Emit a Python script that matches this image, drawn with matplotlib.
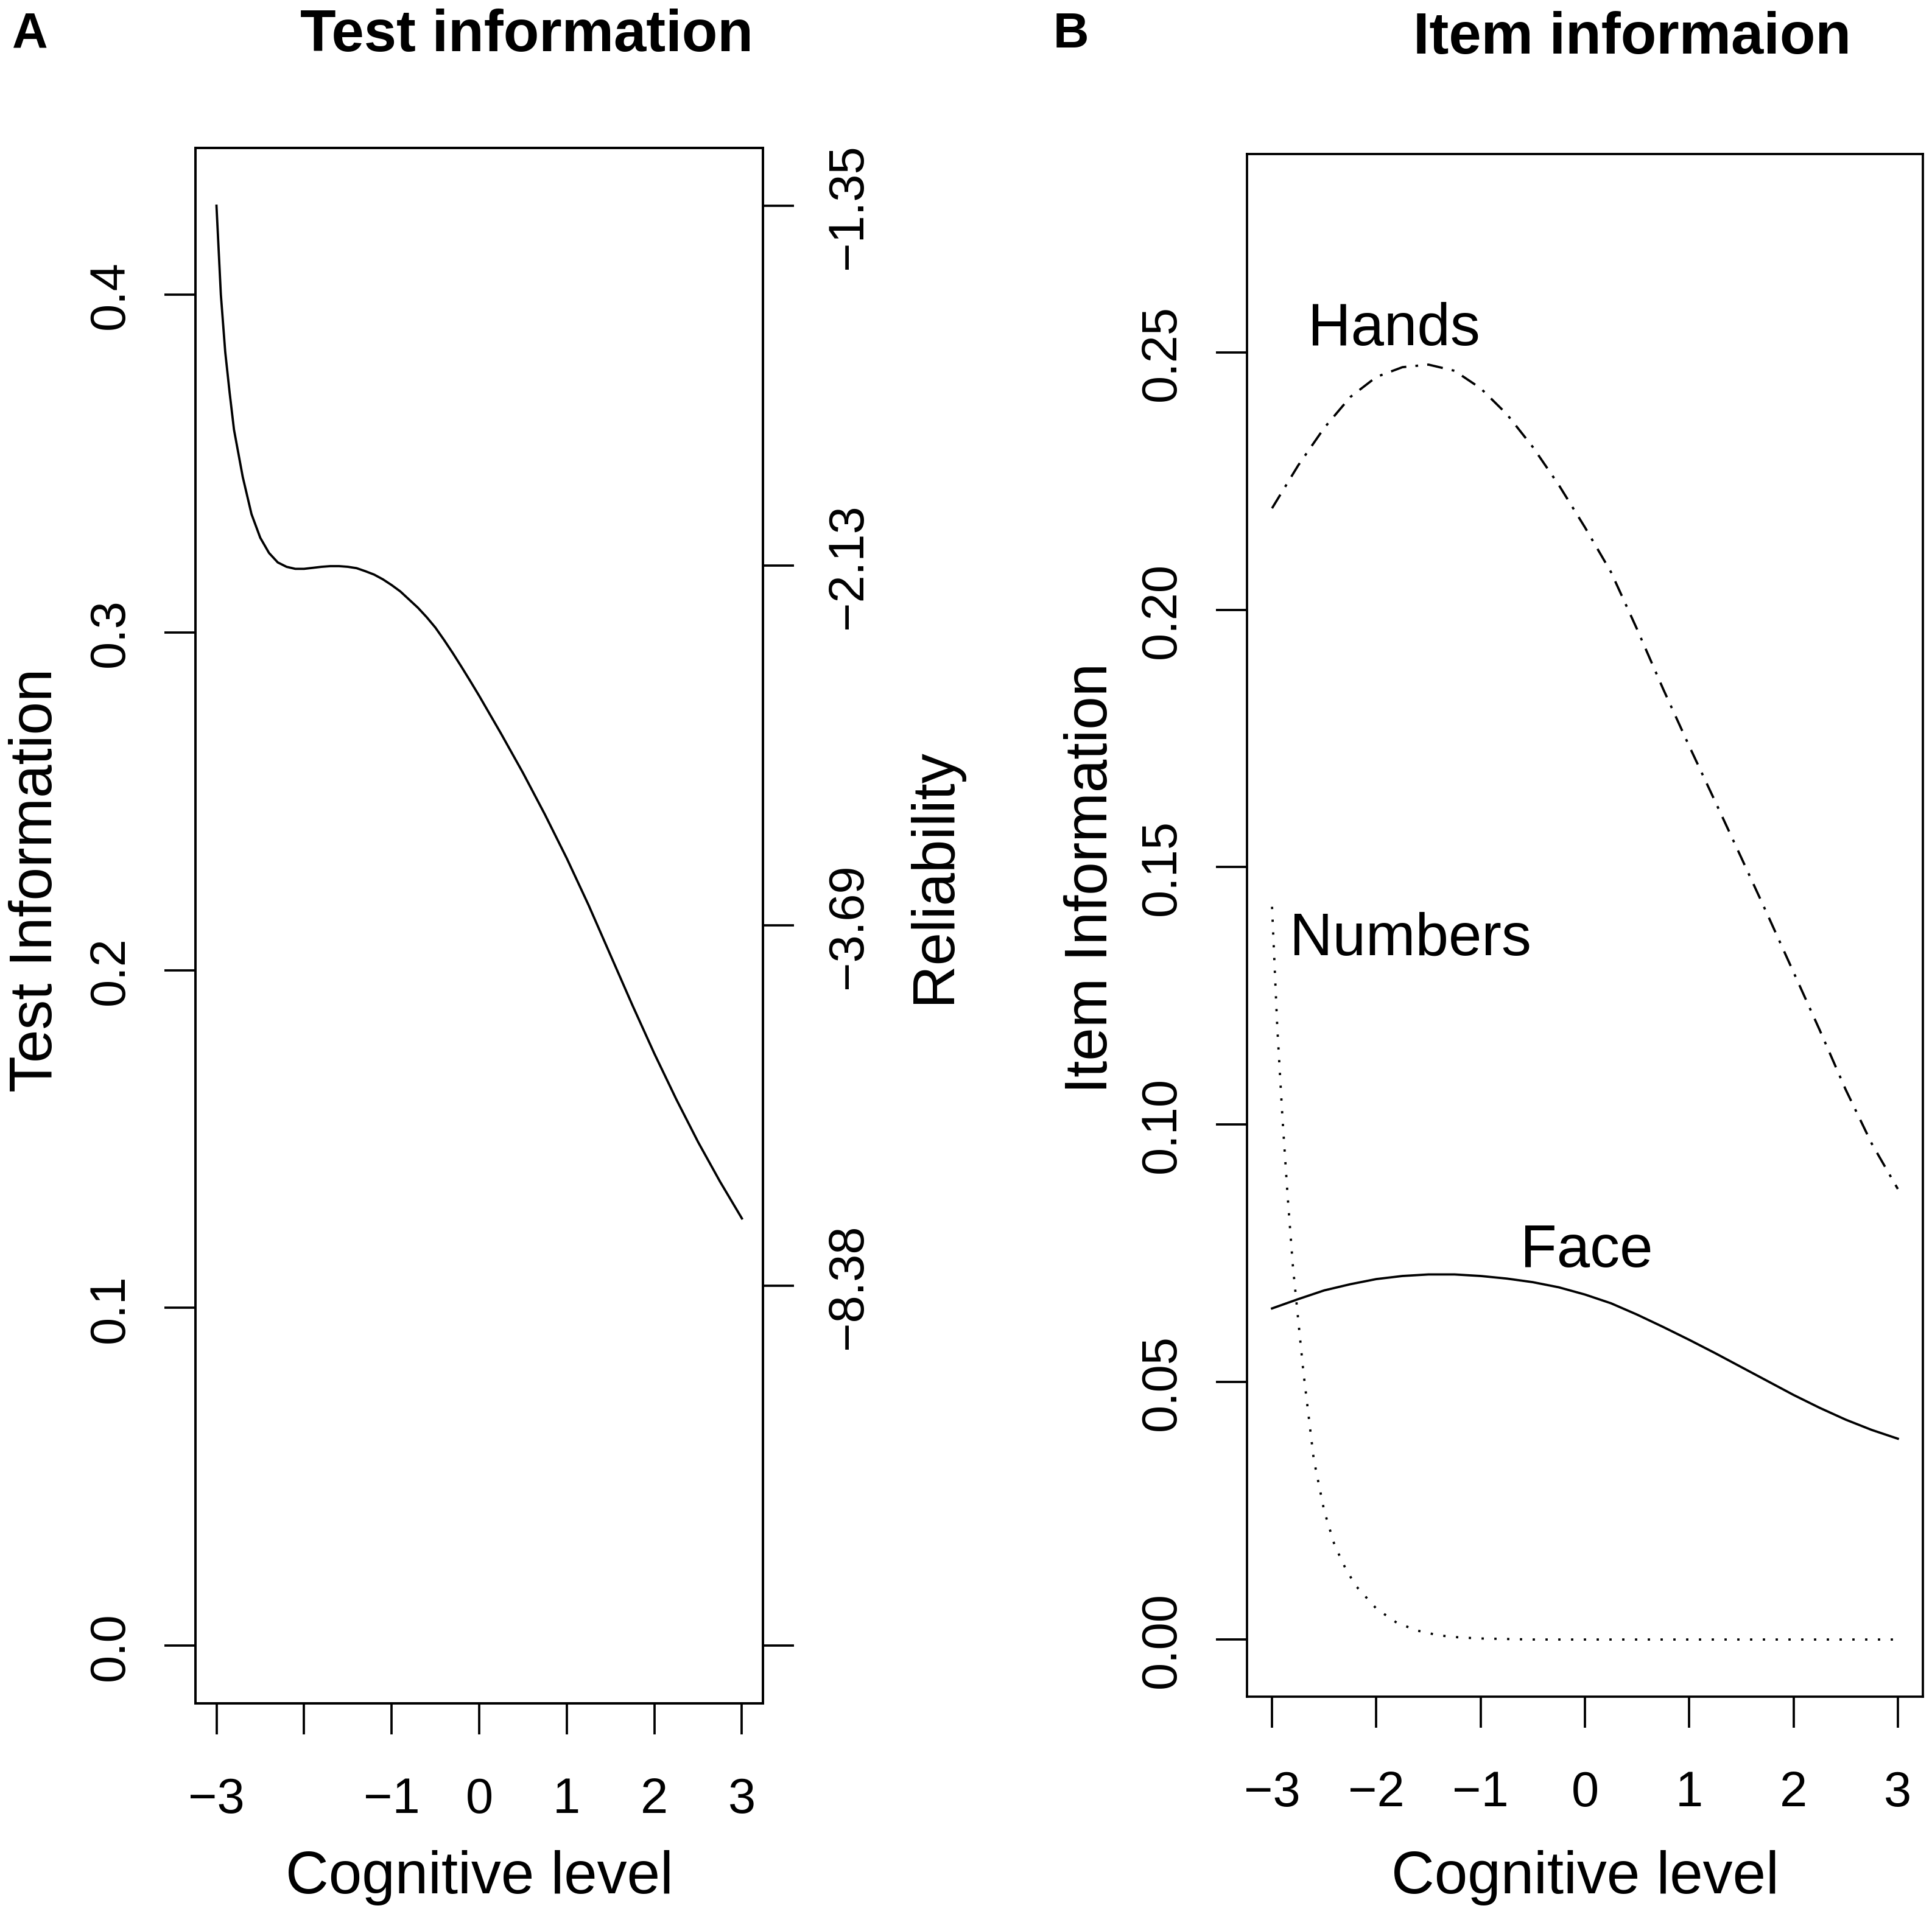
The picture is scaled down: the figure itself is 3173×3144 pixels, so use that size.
import matplotlib
matplotlib.use("Agg")
import matplotlib.pyplot as plt

# ---- data ----
# panel A: test information
theta_test = [-3.0, -2.95, -2.9, -2.85, -2.8, -2.75, -2.7, -2.6, -2.5, -2.4,
              -2.3, -2.2, -2.1, -2.0, -1.9, -1.8, -1.7, -1.6, -1.5, -1.4,
              -1.3, -1.2, -1.1, -1.0, -0.9, -0.8, -0.7, -0.6, -0.5, -0.4,
              -0.3, -0.2, -0.1, 0.0, 0.25, 0.5, 0.75, 1.0, 1.25, 1.5,
              1.75, 2.0, 2.25, 2.5, 2.75, 3.0]
info_test = [0.4263, 0.400, 0.383, 0.371, 0.360, 0.353, 0.346, 0.335, 0.328, 0.3235,
             0.3207, 0.3194, 0.3188, 0.3188, 0.3191, 0.3194, 0.3196, 0.3196, 0.3194, 0.3190,
             0.3181, 0.3171, 0.3157, 0.3140, 0.3121, 0.3097, 0.3073, 0.3045, 0.3014, 0.2977,
             0.2938, 0.2897, 0.2855, 0.2812, 0.2700, 0.2584, 0.2461, 0.2331, 0.2192, 0.2044,
             0.1896, 0.1753, 0.1618, 0.1491, 0.1374, 0.1265]

# right axis of panel A: reliability = 1 - 1/information
rel_pos = [0.4263, 0.3197, 0.2132, 0.1066, 0.0]
rel_labels = ["\u22121.35", "\u22122.13", "\u22123.69", "\u22128.38", ""]

# panel B: item information
theta_items = [-3.0, -2.75, -2.5, -2.25, -2.0, -1.75, -1.5, -1.25, -1.0, -0.75,
               -0.5, -0.25, 0.0, 0.25, 0.5, 0.75, 1.0, 1.25, 1.5, 1.75,
               2.0, 2.25, 2.5, 2.75, 3.0]
info_hands = [0.2197, 0.2280, 0.2353, 0.2413, 0.2452, 0.2471, 0.2476, 0.2464, 0.2430, 0.2380,
              0.2316, 0.2242, 0.2160, 0.2073, 0.1962, 0.1846, 0.1735, 0.1627, 0.1518, 0.1408,
              0.1296, 0.1184, 0.1068, 0.0963, 0.0875]
info_face = [0.0643, 0.0661, 0.0678, 0.0690, 0.0700, 0.0706, 0.0709, 0.0709, 0.0706, 0.0701,
             0.0694, 0.0684, 0.0670, 0.0653, 0.0631, 0.0607, 0.0582, 0.0556, 0.0529, 0.0502,
             0.0475, 0.0450, 0.0427, 0.0407, 0.0390]
theta_numbers = [-3.0, -2.95, -2.9, -2.85, -2.8, -2.7, -2.6, -2.5, -2.4, -2.3,
                 -2.2, -2.0, -1.8, -1.6, -1.4, -1.2, -1.0, -0.5, 0.0, 1.0, 2.0, 3.0]
info_numbers = [0.1423, 0.1190, 0.1013, 0.0860, 0.0725, 0.0521, 0.0350, 0.0250, 0.0183, 0.0140,
                0.0105, 0.0060, 0.0032, 0.0017, 0.0008, 0.0004, 0.0002, 0.0, 0.0, 0.0, 0.0, 0.0]

item_names = ["Hands", "Numbers", "Face"]
item_label_x = [-1.83, -1.67, 0.017]
item_label_y = [0.2545, 0.1361, 0.0755]

x_ticks = [-3, -2, -1, 0, 1, 2, 3]
x_labels_a = ["\u22123", "", "\u22121", "0", "1", "2", "3"]
x_labels_b = ["\u22123", "\u22122", "\u22121", "0", "1", "2", "3"]
y_ticks_a = [0.0, 0.1, 0.2, 0.3, 0.4]
y_labels_a = ["0.0", "0.1", "0.2", "0.3", "0.4"]
y_ticks_b = [0.0, 0.05, 0.10, 0.15, 0.20, 0.25]
y_labels_b = ["0.00", "0.05", "0.10", "0.15", "0.20", "0.25"]

plt.rcParams["font.family"] = ["Liberation Sans", "DejaVu Sans"]

TICK = 19.5
LAB = 23.5
LW = 0.9
TLEN = 12.2

W, H = 3173, 3145
fig = plt.figure(figsize=(W / 300, H / 300), dpi=300)


def fx(px):
    return px / W


def fy(py):
    return 1 - py / H


def style(ax):
    for s in ax.spines.values():
        s.set_linewidth(LW)
    ax.tick_params(length=TLEN, width=LW, labelsize=TICK, direction="out")


# ---- panel A ----
axA = fig.add_axes([fx(321), fy(2799), fx(1253 - 321), (2799 - 244) / H])
axA.plot(theta_test, info_test, color="black", lw=LW)
axA.set_xlim(-3.24, 3.24)
axA.set_ylim(-0.01705, 0.4434)
axA.set_xticks(x_ticks)
axA.set_xticklabels(x_labels_a)
axA.set_yticks(y_ticks_a)
axA.set_yticklabels(y_labels_a, rotation=90, va="center")
style(axA)
axA.tick_params(axis="x", pad=16.5)
axA.tick_params(axis="y", pad=12)

axR = axA.twinx()
axR.set_ylim(axA.get_ylim())
axR.set_yticks(rel_pos)
axR.set_yticklabels(rel_labels, rotation=90, va="center")
style(axR)
axR.tick_params(axis="y", pad=12.5)

# ---- panel B ----
axB = fig.add_axes([fx(2048), fy(2788), fx(3158 - 2048), (2788 - 254) / H])
axB.plot(theta_items, info_hands, color="black", lw=LW, ls=(0, (7, 4, 1.2, 4)))
axB.plot(theta_numbers, info_numbers, color="black", lw=LW, ls=(0, (1, 4.6)))
axB.plot(theta_items, info_face, color="black", lw=LW)
for name, lx, ly in zip(item_names, item_label_x, item_label_y):
    axB.text(lx, ly, name, ha="center", va="center", fontsize=LAB)
axB.set_xlim(-3.24, 3.24)
axB.set_ylim(-0.0111, 0.2885)
axB.set_xticks(x_ticks)
axB.set_xticklabels(x_labels_b)
axB.set_yticks(y_ticks_b)
axB.set_yticklabels(y_labels_b, rotation=90, va="center")
style(axB)
axB.tick_params(axis="x", pad=16.5)
axB.tick_params(axis="y", pad=12)

# ---- axis labels ----
fig.text(fx(787), fy(3110), "Cognitive level", ha="center", va="baseline", fontsize=LAB)
fig.text(fx(2603), fy(3110), "Cognitive level", ha="center", va="baseline", fontsize=LAB)
fig.text(fx(85), fy(1446), "Test Information", rotation=90, rotation_mode="anchor",
         ha="center", va="baseline", fontsize=LAB)
fig.text(fx(1560), fy(1439), "Reliability", rotation=90, rotation_mode="anchor",
         ha="center", va="baseline", fontsize=LAB)
fig.text(fx(1818), fy(1442), "Item Information", rotation=90, rotation_mode="anchor",
         ha="center", va="baseline", fontsize=LAB)

# ---- titles and panel letters ----
fig.text(fx(865), fy(84), "Test information", ha="center", va="baseline",
         fontsize=23, fontweight="bold")
fig.text(fx(2681), fy(88), "Item informaion", ha="center", va="baseline",
         fontsize=23, fontweight="bold")
fig.text(fx(20), fy(78), "A", ha="left", va="baseline", fontsize=19.5, fontweight="bold")
fig.text(fx(1730), fy(78), "B", ha="left", va="baseline", fontsize=19.5, fontweight="bold")

fig.savefig("out.png", dpi=300)
